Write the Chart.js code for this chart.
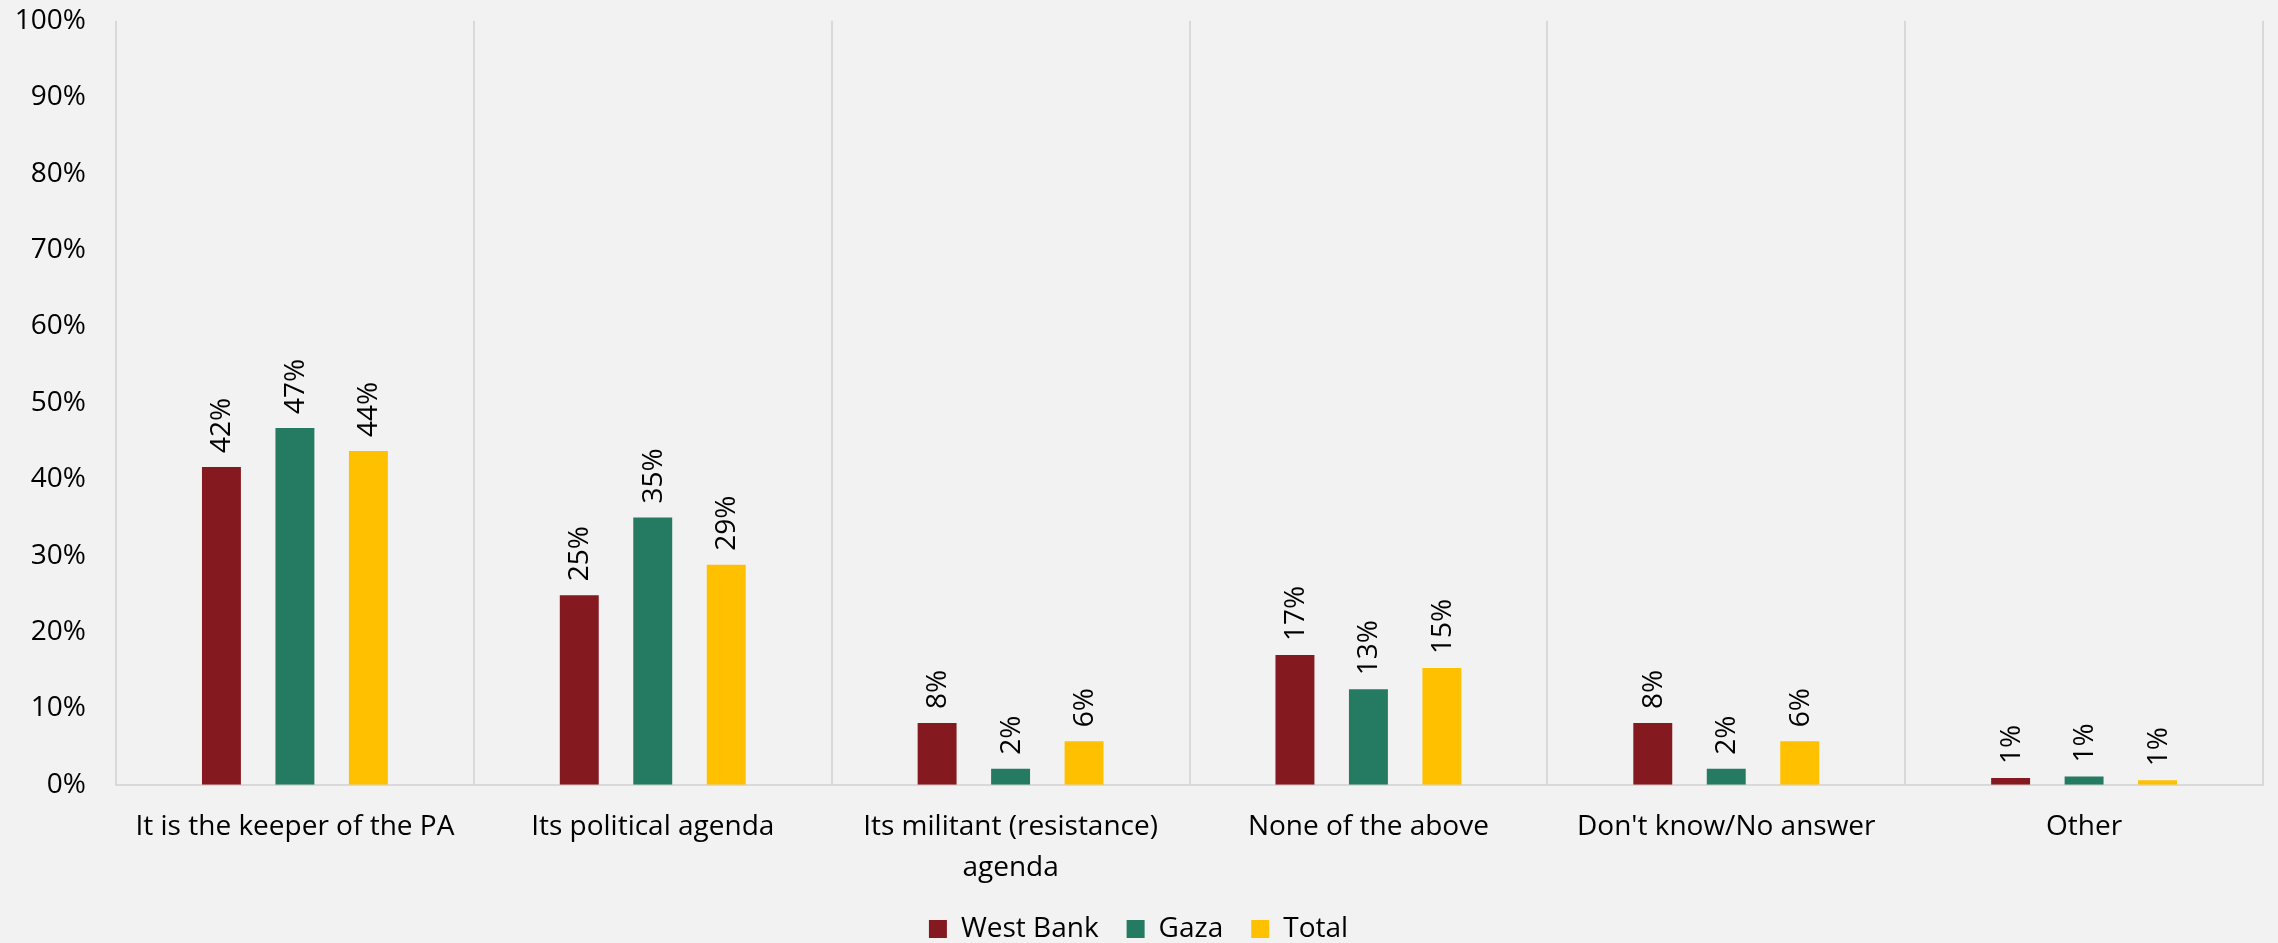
<!DOCTYPE html>
<html>
<head>
<meta charset="utf-8">
<script src="https://cdn.jsdelivr.net/npm/chart.js@4/dist/chart.umd.min.js"></script>
<style>
    html, body { margin: 0; padding: 0; background: #f2f2f2; }
    #wrap { width: 2278px; height: 943px; position: relative; overflow: hidden; }
    #inner { position: absolute; left: 0; top: -26px; width: 2278px; height: 979px; }
</style>
</head>
<body>
<div id="wrap"><div id="inner"><canvas id="barsChart"></canvas></div></div>
<script>
const categories = [
    'It is the keeper of the PA',
    'Its political agenda',
    ['Its militant (resistance)', 'agenda'],
    'None of the above',
    "Don't know/No answer",
    'Other'
];
const westBank = [41.6, 24.8, 8.1, 17.0, 8.1, 0.9];
const gaza = [46.7, 35.0, 2.1, 12.5, 2.1, 1.1];
const total = [43.7, 28.8, 5.7, 15.3, 5.7, 0.6];
const yTicks = [0, 10, 20, 30, 40, 50, 60, 70, 80, 90, 100];

Chart.defaults.color = '#000';
Chart.defaults.font.family = '"Open Sans", sans-serif';
Chart.defaults.font.size = 28;

// rotated value labels above each bar
const barLabels = {
    id: 'barLabels',
    afterDatasetsDraw(chart) {
        const ctx = chart.ctx;
        ctx.save();
        ctx.font = '28px "Open Sans", sans-serif';
        ctx.fillStyle = '#000';
        ctx.textAlign = 'left';
        ctx.textBaseline = 'middle';
        chart.data.datasets.forEach((ds, i) => {
            chart.getDatasetMeta(i).data.forEach((bar, j) => {
                ctx.save();
                ctx.translate(bar.x + 1, bar.y - 14);
                ctx.rotate(-Math.PI / 2);
                ctx.fillText(Math.round(ds.data[j]) + '%', 0, 0);
                ctx.restore();
            });
        });
        ctx.restore();
    }
};

const barsCtx = document.getElementById('barsChart').getContext('2d');
new Chart(barsCtx, {
    type: 'bar',
    data: {
        labels: categories,
        datasets: [
            { label: 'West Bank', data: westBank, backgroundColor: '#841a20' },
            { label: 'Gaza', data: gaza, backgroundColor: '#257a62' },
            { label: 'Total', data: total, backgroundColor: '#ffc000' }
        ]
    },
    options: {
        responsive: true,
        maintainAspectRatio: false,
        animation: false,
        categoryPercentage: 0.616,
        barPercentage: 0.53,
        layout: {
            padding: { left: 14, right: 15, top: -20, bottom: 0 }
        },
        scales: {
            y: {
                min: 0,
                max: 100,
                afterBuildTicks: axis => {
                    axis.ticks = yTicks.map(v => ({ value: v }));
                },
                afterFit: axis => {
                    axis.width = 102;
                },
                border: { display: false },
                grid: { display: false, drawTicks: false },
                ticks: {
                    padding: 30,
                    callback: v => v + '%'
                }
            },
            x: {
                afterFit: axis => {
                    axis.height -= 23;
                },
                border: { display: true, color: '#d9d9d9', width: 2 },
                grid: {
                    display: true,
                    offset: true,
                    color: '#d9d9d9',
                    lineWidth: 2,
                    drawTicks: false
                },
                ticks: {
                    padding: 22,
                    maxRotation: 0,
                    autoSkip: false,
                    font: { size: 28, lineHeight: 1.45 }
                }
            }
        },
        plugins: {
            legend: {
                position: 'bottom',
                labels: {
                    boxWidth: 18,
                    boxHeight: 18,
                    padding: 28,
                    font: { size: 28 }
                }
            },
            tooltip: { enabled: false }
        }
    },
    plugins: [barLabels]
});
</script>
</body>
</html>
